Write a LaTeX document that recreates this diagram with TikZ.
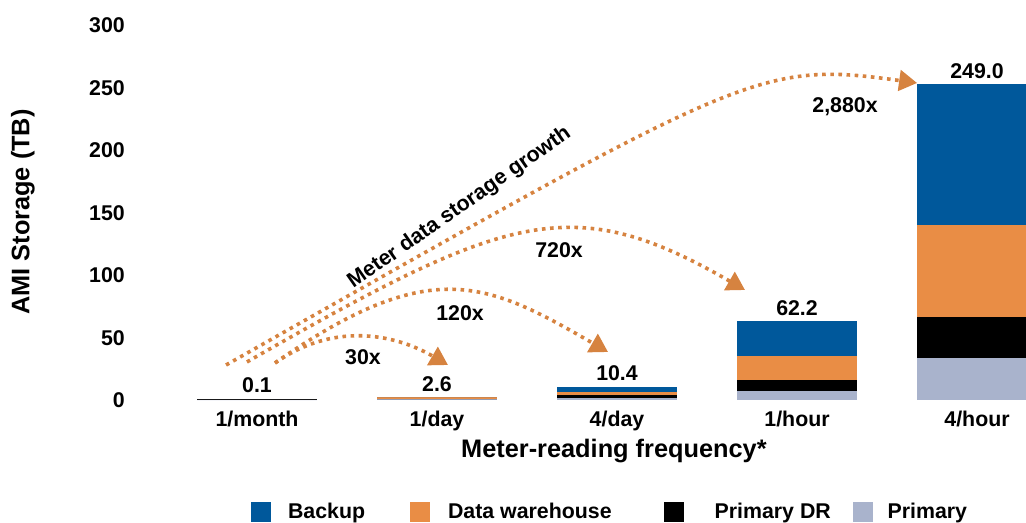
\documentclass[tikz,border=0pt]{standalone}
\usepackage{fontspec}
\setmainfont{Liberation Sans}
\usetikzlibrary{arrows.meta, positioning}

\definecolor{backup}{RGB}{0,88,155}
\definecolor{warehouse}{RGB}{233,141,69}
\definecolor{primary}{RGB}{169,179,204}
\definecolor{growth}{RGB}{214,131,64}

\begin{document}
\begin{tikzpicture}[x=135pt, y=0.9375pt,
    lbl/.style={font={\fontsize{16}{19}\selectfont\bfseries}, inner sep=0pt},
    ttl/.style={font={\fontsize{19}{23}\selectfont\bfseries}, inner sep=0pt},
    growline/.style={growth, line width=2.7pt, dash pattern=on 2.7pt off 3.4pt,
        -{Triangle[length=13.5pt, width=15.5pt]}},
    key/.style={minimum size=15pt, inner sep=0pt}]

    % Canvas with the margins of the chart
    \useasboundingbox (-0.4278, -98) rectangle (5.2722, 320.4);
    \clip (-0.4278, -98) rectangle (5.2722, 320.4);

    % Y-Axis labels (steps of 50 from 0 to 300)
    \foreach \y in {0, 50, ..., 300}
        \node[lbl, anchor=east] (tick\y) at (0.2667, \y) {\y};
    \node[ttl, rotate=90] (ytitle) at (-0.3, 150.8) {AMI Storage (TB)};

    % Stacked bars: primary, primary DR, warehouse, backup (cumulative tops)
    \foreach \i/\p/\d/\w/\b in {1/0/1.4/1.4/1.4, 2/1.1/1.1/2.6/2.6,
        3/1.9/4.0/6.4/11, 4/7.7/16.5/35.2/63.7, 5/34/67/140/253} {
        \fill[primary] (\i-1/3, 0) rectangle (\i+1/3, \p);
        \fill[black] (\i-1/3, \p) rectangle (\i+1/3, \d);
        \fill[warehouse] (\i-1/3, \d) rectangle (\i+1/3, \w);
        \fill[backup] (\i-1/3, \w) rectangle (\i+1/3, \b);
        \coordinate (top\i) at (\i, \b);
    }

    % Totals above the bars
    \foreach \i/\v in {1/0.1, 2/2.6, 3/10.4, 4/62.2, 5/249.0}
        \node[lbl, above=4pt of top\i] (val\i) {\v};

    % X-Axis categories
    \foreach \f [count=\i] in {1/month, 1/day, 4/day, 1/hour, 4/hour}
        \node[lbl, anchor=base] (freq\i) at (\i, -21.2) {\f};
    \node[ttl, anchor=base] (xtitle) at (2.983, -46) {Meter-reading frequency*};

    % Growth arrows
    \coordinate (from30) at (1.1, 30);
    \coordinate (to30) at (2.061, 28.4);
    \coordinate (from120) at (1.1, 30);
    \coordinate (to120) at (2.95, 38.8);
    \coordinate (from720) at (0.944, 30.8);
    \coordinate (to720) at (3.711, 88.4);
    \coordinate (from2880) at (0.828, 28.4);
    \coordinate (to2880) at (4.667, 254);

    \draw[growline] (from30) .. controls (1.417, 62) and (1.75, 54.4) .. (to30);
    \draw[growline] (from120) .. controls (1.967, 117.2) and (2.278, 94.8) .. (to120);
    \draw[growline] (from720) .. controls (2.389, 150) and (2.75, 168.4) .. (to720);
    \draw[growline] (from2880) .. controls (3.722, 264.4) and (3.789, 271.6) .. (to2880);

    \node[lbl] (x30) at (1.589, 34.8) {30x};
    \node[lbl] (x120) at (2.128, 70) {120x};
    \node[lbl] (x720) at (2.678, 120.4) {720x};
    \node[lbl] (x2880) at (4.267, 234.8) {2,880x};
    \node[lbl, rotate=35] (growlbl) at (2.125, 154) {Meter data storage growth};

    % Legend
    \foreach \c/\n/\x/\t in {backup/Backup/1.022/1.171, warehouse/Data warehouse/1.905/2.06,
        black/Primary DR/3.319/3.541, primary/Primary/4.369/4.502} {
        \node[key, fill=\c] (key\c) at (\x, -89) {};
        \node[lbl, anchor=base west] (name\c) at (\t, -94.8) {\n};
    }

\end{tikzpicture}
\end{document}
